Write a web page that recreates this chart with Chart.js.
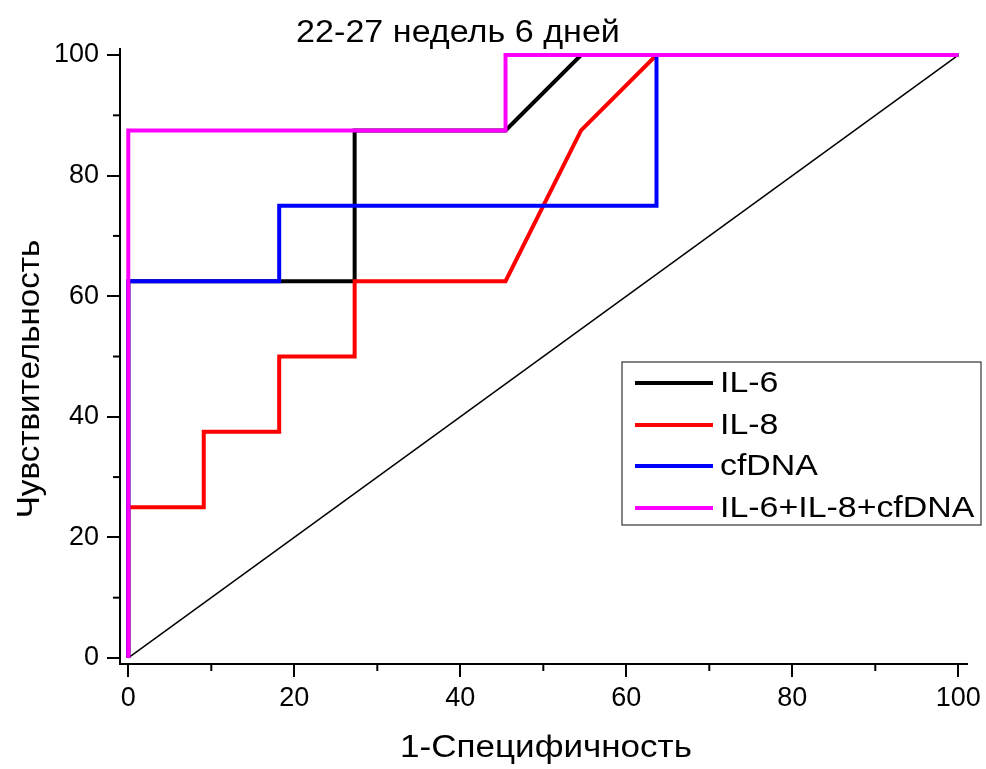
<!DOCTYPE html>
<html>
<head>
<meta charset="utf-8">
<script src="https://cdn.jsdelivr.net/npm/chart.js@4/dist/chart.umd.min.js"></script>
<style>
html,body{margin:0;padding:0;background:#fff;}
#wrap{width:986px;height:769px;}
</style>
</head>
<body>
<div id="wrap"><canvas id="c" width="986" height="769"></canvas></div>
<script>
// ---- data ----
const chartTitle = "22-27 недель 6 дней";
const xTitle = "1-Специфичность";
const yTitle = "Чувствительность";
const seriesNames = ["IL-6", "IL-8", "cfDNA", "IL-6+IL-8+cfDNA"];
const seriesColors = ["#000000", "#ff0000", "#0000ff", "#ff00ff"];

const il6X = [0, 0, 18.18, 27.27, 27.27, 45.45, 54.55, 100];
const il6Y = [0, 62.5, 62.5, 62.5, 87.5, 87.5, 100, 100];

const il8X = [0, 0, 9.09, 9.09, 18.18, 18.18, 27.27, 27.27, 45.45, 54.55, 63.64, 100];
const il8Y = [0, 25, 25, 37.5, 37.5, 50, 50, 62.5, 62.5, 87.5, 100, 100];

const cfdnaX = [0, 0, 18.18, 18.18, 63.64, 63.64, 100];
const cfdnaY = [0, 62.5, 62.5, 75, 75, 100, 100];

const comboX = [0, 0, 45.45, 45.45, 100];
const comboY = [0, 87.5, 87.5, 100, 100];

const refX = [0, 100];
const refY = [0, 100];

const majorTicks = [0, 20, 40, 60, 80, 100];
const minorTicks = [10, 30, 50, 70, 90];

// ---- build ----
const FONT = "'Liberation Sans', Arial, sans-serif";
function pts(xs, ys) { return xs.map((x, i) => ({x: x, y: ys[i]})); }
const seriesX = [il6X, il8X, cfdnaX, comboX];
const seriesY = [il6Y, il8Y, cfdnaY, comboY];
const drawOrder = [4, 3, 2, 1]; // combo on top, then cfDNA, IL-8, IL-6

const datasets = seriesNames.map((n, i) => ({
  label: n,
  data: pts(seriesX[i], seriesY[i]),
  borderColor: seriesColors[i],
  backgroundColor: seriesColors[i],
  borderWidth: 4,
  pointRadius: 0,
  tension: 0,
  fill: false,
  order: drawOrder[i]
}));
datasets.push({
  label: "ref",
  data: pts(refX, refY),
  borderColor: "#000",
  borderWidth: 1.5,
  pointRadius: 0,
  fill: false,
  order: 5
});

// text drawn slightly wide, like the original export
function wideText(ctx, text, x, y, size, sx, align) {
  ctx.save();
  ctx.font = size + "px " + FONT;
  ctx.textAlign = align || 'center';
  ctx.textBaseline = 'middle';
  ctx.translate(x, y);
  ctx.scale(sx, 1);
  ctx.fillText(text, 0, 0);
  ctx.restore();
}

const decor = {
  id: 'decor',
  afterDraw(chart) {
    const ctx = chart.ctx;
    const xs = chart.scales.x, ys = chart.scales.y;
    ctx.save();
    // minor ticks
    ctx.strokeStyle = '#000';
    ctx.lineWidth = 2;
    minorTicks.forEach(v => {
      const px = xs.getPixelForValue(v);
      ctx.beginPath(); ctx.moveTo(px, xs.top); ctx.lineTo(px, xs.top + 7); ctx.stroke();
      const py = ys.getPixelForValue(v);
      ctx.beginPath(); ctx.moveTo(ys.right, py); ctx.lineTo(ys.right - 7, py); ctx.stroke();
    });
    // titles
    ctx.fillStyle = '#000';
    wideText(ctx, chartTitle, 458, 33, 31, 1.1);
    wideText(ctx, xTitle, 546, 748, 31, 1.13);
    ctx.save();
    ctx.translate(30, 379);
    ctx.rotate(-Math.PI / 2);
    wideText(ctx, yTitle, 0, 0, 31, 1.07);
    ctx.restore();
    // legend
    const lx = 622, ly = 362, lw = 359, lh = 163;
    ctx.fillStyle = '#fff';
    ctx.fillRect(lx, ly, lw, lh);
    ctx.strokeStyle = '#333';
    ctx.lineWidth = 1.2;
    ctx.strokeRect(lx, ly, lw, lh);
    const rowY = [383, 425, 466, 508];
    chart.data.datasets.slice(0, 4).forEach((d, i) => {
      ctx.strokeStyle = d.borderColor;
      ctx.lineWidth = 4;
      ctx.beginPath(); ctx.moveTo(635, rowY[i]); ctx.lineTo(713, rowY[i]); ctx.stroke();
      ctx.fillStyle = '#000';
      wideText(ctx, d.label, 720, rowY[i] + 1, 30, 1.13, 'left');
    });
    ctx.restore();
  }
};

new Chart(document.getElementById('c'), {
  type: 'line',
  data: { datasets: datasets },
  options: {
    responsive: false,
    animation: false,
    layout: { padding: { top: 49, right: 18, left: 0, bottom: 0 } },
    plugins: { legend: { display: false }, title: { display: false }, tooltip: { enabled: false } },
    scales: {
      x: {
        type: 'linear', min: -1, max: 101,
        afterFit(s) { s.height = 105; },
        afterBuildTicks(s) { s.ticks = majorTicks.map(v => ({value: v})); },
        border: { display: true, color: '#000', width: 2 },
        grid: { display: true, drawOnChartArea: false, drawTicks: true, tickLength: 13, color: '#000', lineWidth: 2 },
        ticks: { color: '#000', font: { family: FONT, size: 27 }, padding: 5, maxRotation: 0 }
      },
      y: {
        type: 'linear', min: -1, max: 101,
        afterFit(s) { s.width = 120; },
        afterBuildTicks(s) { s.ticks = majorTicks.map(v => ({value: v})); },
        border: { display: true, color: '#000', width: 2 },
        grid: { display: true, drawOnChartArea: false, drawTicks: true, tickLength: 13, color: '#000', lineWidth: 2 },
        ticks: { color: '#000', font: { family: FONT, size: 27 }, padding: 8 }
      }
    }
  },
  plugins: [decor]
});
</script>
</body>
</html>
